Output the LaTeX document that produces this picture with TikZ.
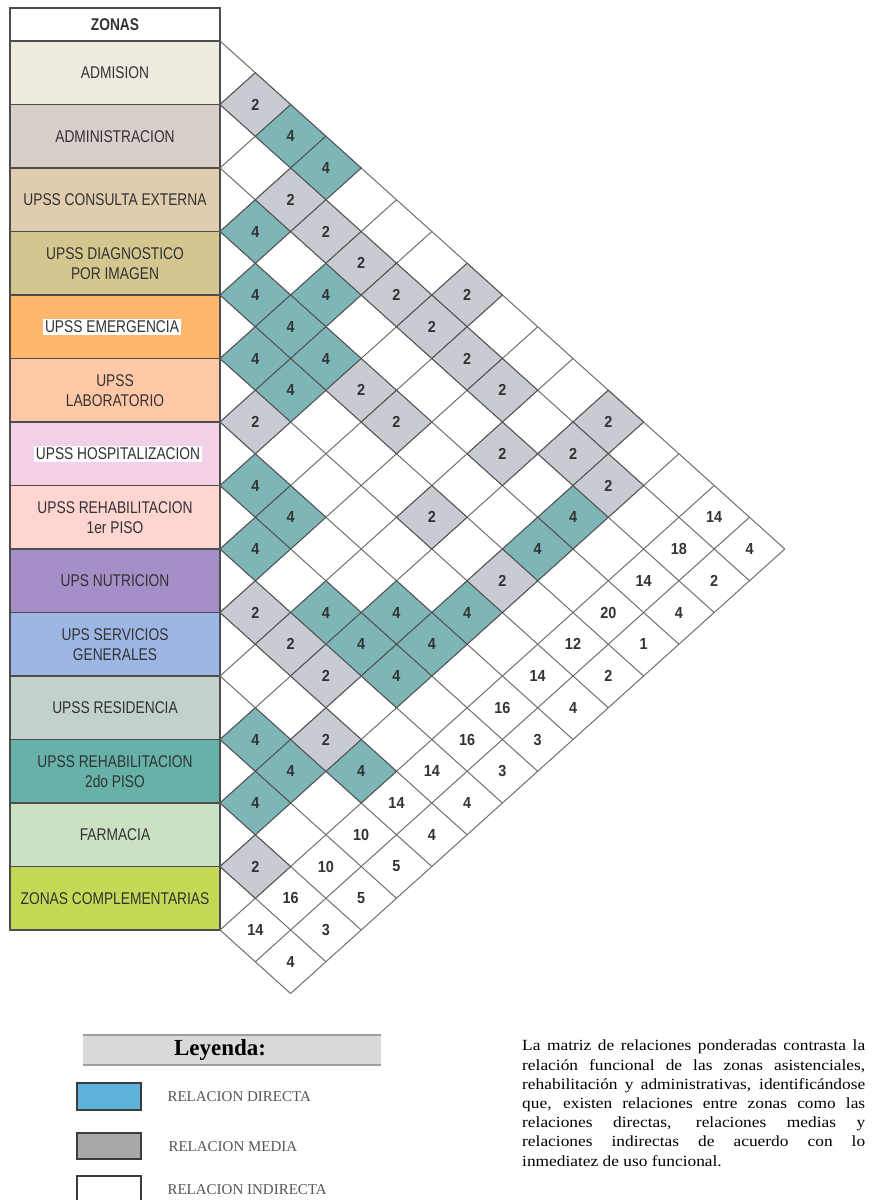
\documentclass[tikz,border=0pt]{standalone}
\usepackage{fontspec}
\setmainfont{Liberation Serif}
\newfontfamily\zonefont[FakeStretch=0.81]{Liberation Sans}
\newfontfamily\numfont[FakeStretch=0.9]{Liberation Sans}
\newfontfamily\notefont[FakeStretch=1.12]{Liberation Serif}

\begin{document}
\begin{tikzpicture}[x=1pt,y=-1pt,
  zone/.style={draw=edge,line width=1.5pt},
  zonelabel/.style={font=\zonefont\fontsize{17}{20}\selectfont,text=ink,align=center,inner sep=2pt},
  gridline/.style={draw=grid,line width=1pt},
  cellnum/.style={font=\numfont\bfseries\fontsize{16}{16}\selectfont,text=ink},
  legbox/.style={draw=legedge,line width=1.5pt},
  leglabel/.style={anchor=west,font=\fontsize{15}{15}\selectfont,text=inkii}]
\definecolor{ink}{HTML}{333333}\definecolor{inkii}{HTML}{555555}
\definecolor{edge}{HTML}{4D4D4D}\definecolor{grid}{HTML}{6E6E6E}
\definecolor{celledge}{HTML}{555555}
\definecolor{direct}{HTML}{7EB6B7}\definecolor{media}{HTML}{C8CBD2}
\definecolor{zadmision}{HTML}{EEECE1}\definecolor{zadministracion}{HTML}{D8CFCB}
\definecolor{zconsulta}{HTML}{E0CCAE}\definecolor{zdiagnostico}{HTML}{D4C68F}
\definecolor{zemergencia}{HTML}{FFB86B}\definecolor{zlaboratorio}{HTML}{FFC9A8}
\definecolor{zhospital}{HTML}{F2D1E6}\definecolor{zrehabi}{HTML}{FFD5D2}
\definecolor{znutricion}{HTML}{A58FC9}\definecolor{zservicios}{HTML}{9EB6E4}
\definecolor{zresidencia}{HTML}{C3D1CB}\definecolor{zrehabii}{HTML}{67B2A8}
\definecolor{zfarmacia}{HTML}{CBE1C4}\definecolor{zcomplem}{HTML}{C5D957}
\definecolor{legbar}{HTML}{D9D9D9}\definecolor{legrule}{HTML}{9E9E9E}
\definecolor{legdirect}{HTML}{5DB3D9}\definecolor{legmedia}{HTML}{A9A9A9}
\definecolor{legedge}{HTML}{3C3C3C}
\useasboundingbox (0,0) rectangle (875,1200);
% zones column
\draw[zone,fill=white] (10,8) rectangle (220,41);
\node[font=\zonefont\bfseries\fontsize{17}{17}\selectfont,text=ink] (zonas) at (115,24.5) {ZONAS};
\draw[zone,fill=zadmision] (10,41) rectangle (220,104.5);
\node[zonelabel] (admision) at (115,72.75) {ADMISION};
\draw[zone,fill=zadministracion] (10,104.5) rectangle (220,168);
\node[zonelabel] (administracion) at (115,136.25) {ADMINISTRACION};
\draw[zone,fill=zconsulta] (10,168) rectangle (220,231.5);
\node[zonelabel] (consulta) at (115,199.75) {UPSS CONSULTA EXTERNA};
\draw[zone,fill=zdiagnostico] (10,231.5) rectangle (220,295);
\node[zonelabel] (diagnostico) at (115,263.25) {UPSS DIAGNOSTICO\\POR IMAGEN};
\draw[zone,fill=zemergencia] (10,295) rectangle (220,358.5);
\node[zonelabel,fill=white] (emergencia) at (112,326.75) {UPSS EMERGENCIA};
\draw[zone,fill=zlaboratorio] (10,358.5) rectangle (220,422);
\node[zonelabel] (laboratorio) at (115,390.25) {UPSS\\LABORATORIO};
\draw[zone,fill=zhospital] (10,422) rectangle (220,485.5);
\node[zonelabel,fill=white] (hospitalizacion) at (118,453.75) {UPSS HOSPITALIZACION};
\draw[zone,fill=zrehabi] (10,485.5) rectangle (220,549);
\node[zonelabel] (rehabi) at (115,517.25) {UPSS REHABILITACION\\1er PISO};
\draw[zone,fill=znutricion] (10,549) rectangle (220,612.5);
\node[zonelabel] (nutricion) at (115,580.75) {UPS NUTRICION};
\draw[zone,fill=zservicios] (10,612.5) rectangle (220,676);
\node[zonelabel] (servicios) at (115,644.25) {UPS SERVICIOS\\GENERALES};
\draw[zone,fill=zresidencia] (10,676) rectangle (220,739.5);
\node[zonelabel] (residencia) at (115,707.75) {UPSS RESIDENCIA};
\draw[zone,fill=zrehabii] (10,739.5) rectangle (220,803);
\node[zonelabel] (rehabii) at (115,771.25) {UPSS REHABILITACION\\2do PISO};
\draw[zone,fill=zfarmacia] (10,803) rectangle (220,866.5);
\node[zonelabel] (farmacia) at (115,834.75) {FARMACIA};
\draw[zone,fill=zcomplem] (10,866.5) rectangle (220,930);
\node[zonelabel] (complem) at (115,898.25) {ZONAS COMPLEMENTARIAS};
% diamond grid
\foreach \k in {0,...,14}
  \draw[gridline] (220,41+63.5*\k) -- ({220+(16-\k)*35.3},{41+(16+\k)*31.75});
\foreach \m in {1,...,16}{
  \pgfmathsetmacro\kk{min(\m,14)}
  \draw[gridline] ({220+(\m-\kk)*35.3},{41+(\m+\kk)*31.75}) -- ({220+\m*35.3},{41+\m*31.75});
}
% direct relations
\foreach \r/\c in {0/2,0/3,2/3,2/5,2/12,3/4,3/5,3/6,3/12,4/5,4/6,5/12,6/7,6/8,6/11,6/12,
                   7/8,7/10,7/11,7/12,9/13,10/11,10/12,11/12}{
  \pgfmathsetmacro\cx{220+(\c-\r)*35.3}
  \pgfmathsetmacro\cy{41+(\r+\c+1)*31.75}
  \filldraw[fill=direct,draw=celledge,line width=1pt] (\cx,\cy) ++(-35.3,0) -- ++(35.3,-31.75)
    -- ++(35.3,31.75) -- ++(-35.3,31.75) -- cycle;
  \node[cellnum] (d-\r-\c) at (\cx,\cy) {4};
}
% medium relations
\foreach \r/\c in {0/1,0/7,0/11,1/3,1/4,1/5,1/6,1/7,1/8,1/9,1/11,1/12,2/10,3/7,3/8,4/10,4/12,
                   5/6,8/9,8/10,8/11,9/12,12/13}{
  \pgfmathsetmacro\cx{220+(\c-\r)*35.3}
  \pgfmathsetmacro\cy{41+(\r+\c+1)*31.75}
  \filldraw[fill=media,draw=celledge,line width=1pt] (\cx,\cy) ++(-35.3,0) -- ++(35.3,-31.75)
    -- ++(35.3,31.75) -- ++(-35.3,31.75) -- cycle;
  \node[cellnum] (m-\r-\c) at (\cx,\cy) {2};
}
% indirect values
\foreach \r/\v in {0/14,1/18,2/14,3/20,4/12,5/14,6/16,7/16,8/14,9/14,10/10,11/10,12/16,13/14}
  \node[cellnum] (w-\r-14) at ({220+(14-\r)*35.3},{41+(\r+15)*31.75}) {\v};
\foreach \r/\v in {0/4,1/2,2/4,3/1,4/2,5/4,6/3,7/3,8/4,9/4,10/5,11/5,12/3,13/4}
  \node[cellnum] (w-\r-15) at ({220+(15-\r)*35.3},{41+(\r+16)*31.75}) {\v};
% legend
\fill[legbar] (83,1035) rectangle (381,1065);
\draw[legrule,line width=1.5pt] (83,1035) -- (381,1035);
\draw[legrule,line width=1.5pt] (83,1065) -- (381,1065);
\node[font=\bfseries\fontsize{23}{23}\selectfont,text=black] (leyenda) at (220,1050) {Leyenda:};
\draw[legbox,fill=legdirect] (77,1083) rectangle (141,1110);
\node[leglabel] (ldirecta) at (164,1097) {RELACION DIRECTA};
\draw[legbox,fill=legmedia] (77,1133) rectangle (141,1159);
\node[leglabel] (lmedia) at (165,1147) {RELACION MEDIA};
\draw[legbox,fill=white] (77,1176) rectangle (141,1206);
\node[leglabel] (lindirecta) at (164,1190) {RELACION INDIRECTA};
% note
\node[anchor=north west,align=left,inner sep=0pt,text=black,font=\notefont\fontsize{15.5}{19.2}\selectfont] (nota) at (522,1040)
  {\makebox[343pt][s]{La matriz de relaciones ponderadas contrasta la}\\
   \makebox[343pt][s]{relación funcional de las zonas asistenciales,}\\
   \makebox[343pt][s]{rehabilitación y administrativas, identificándose}\\
   \makebox[343pt][s]{que, existen relaciones entre zonas como las}\\
   \makebox[343pt][s]{relaciones directas, relaciones medias y}\\
   \makebox[343pt][s]{relaciones indirectas de acuerdo con lo}\\
   inmediatez de uso funcional.};
\end{tikzpicture}
\end{document}
